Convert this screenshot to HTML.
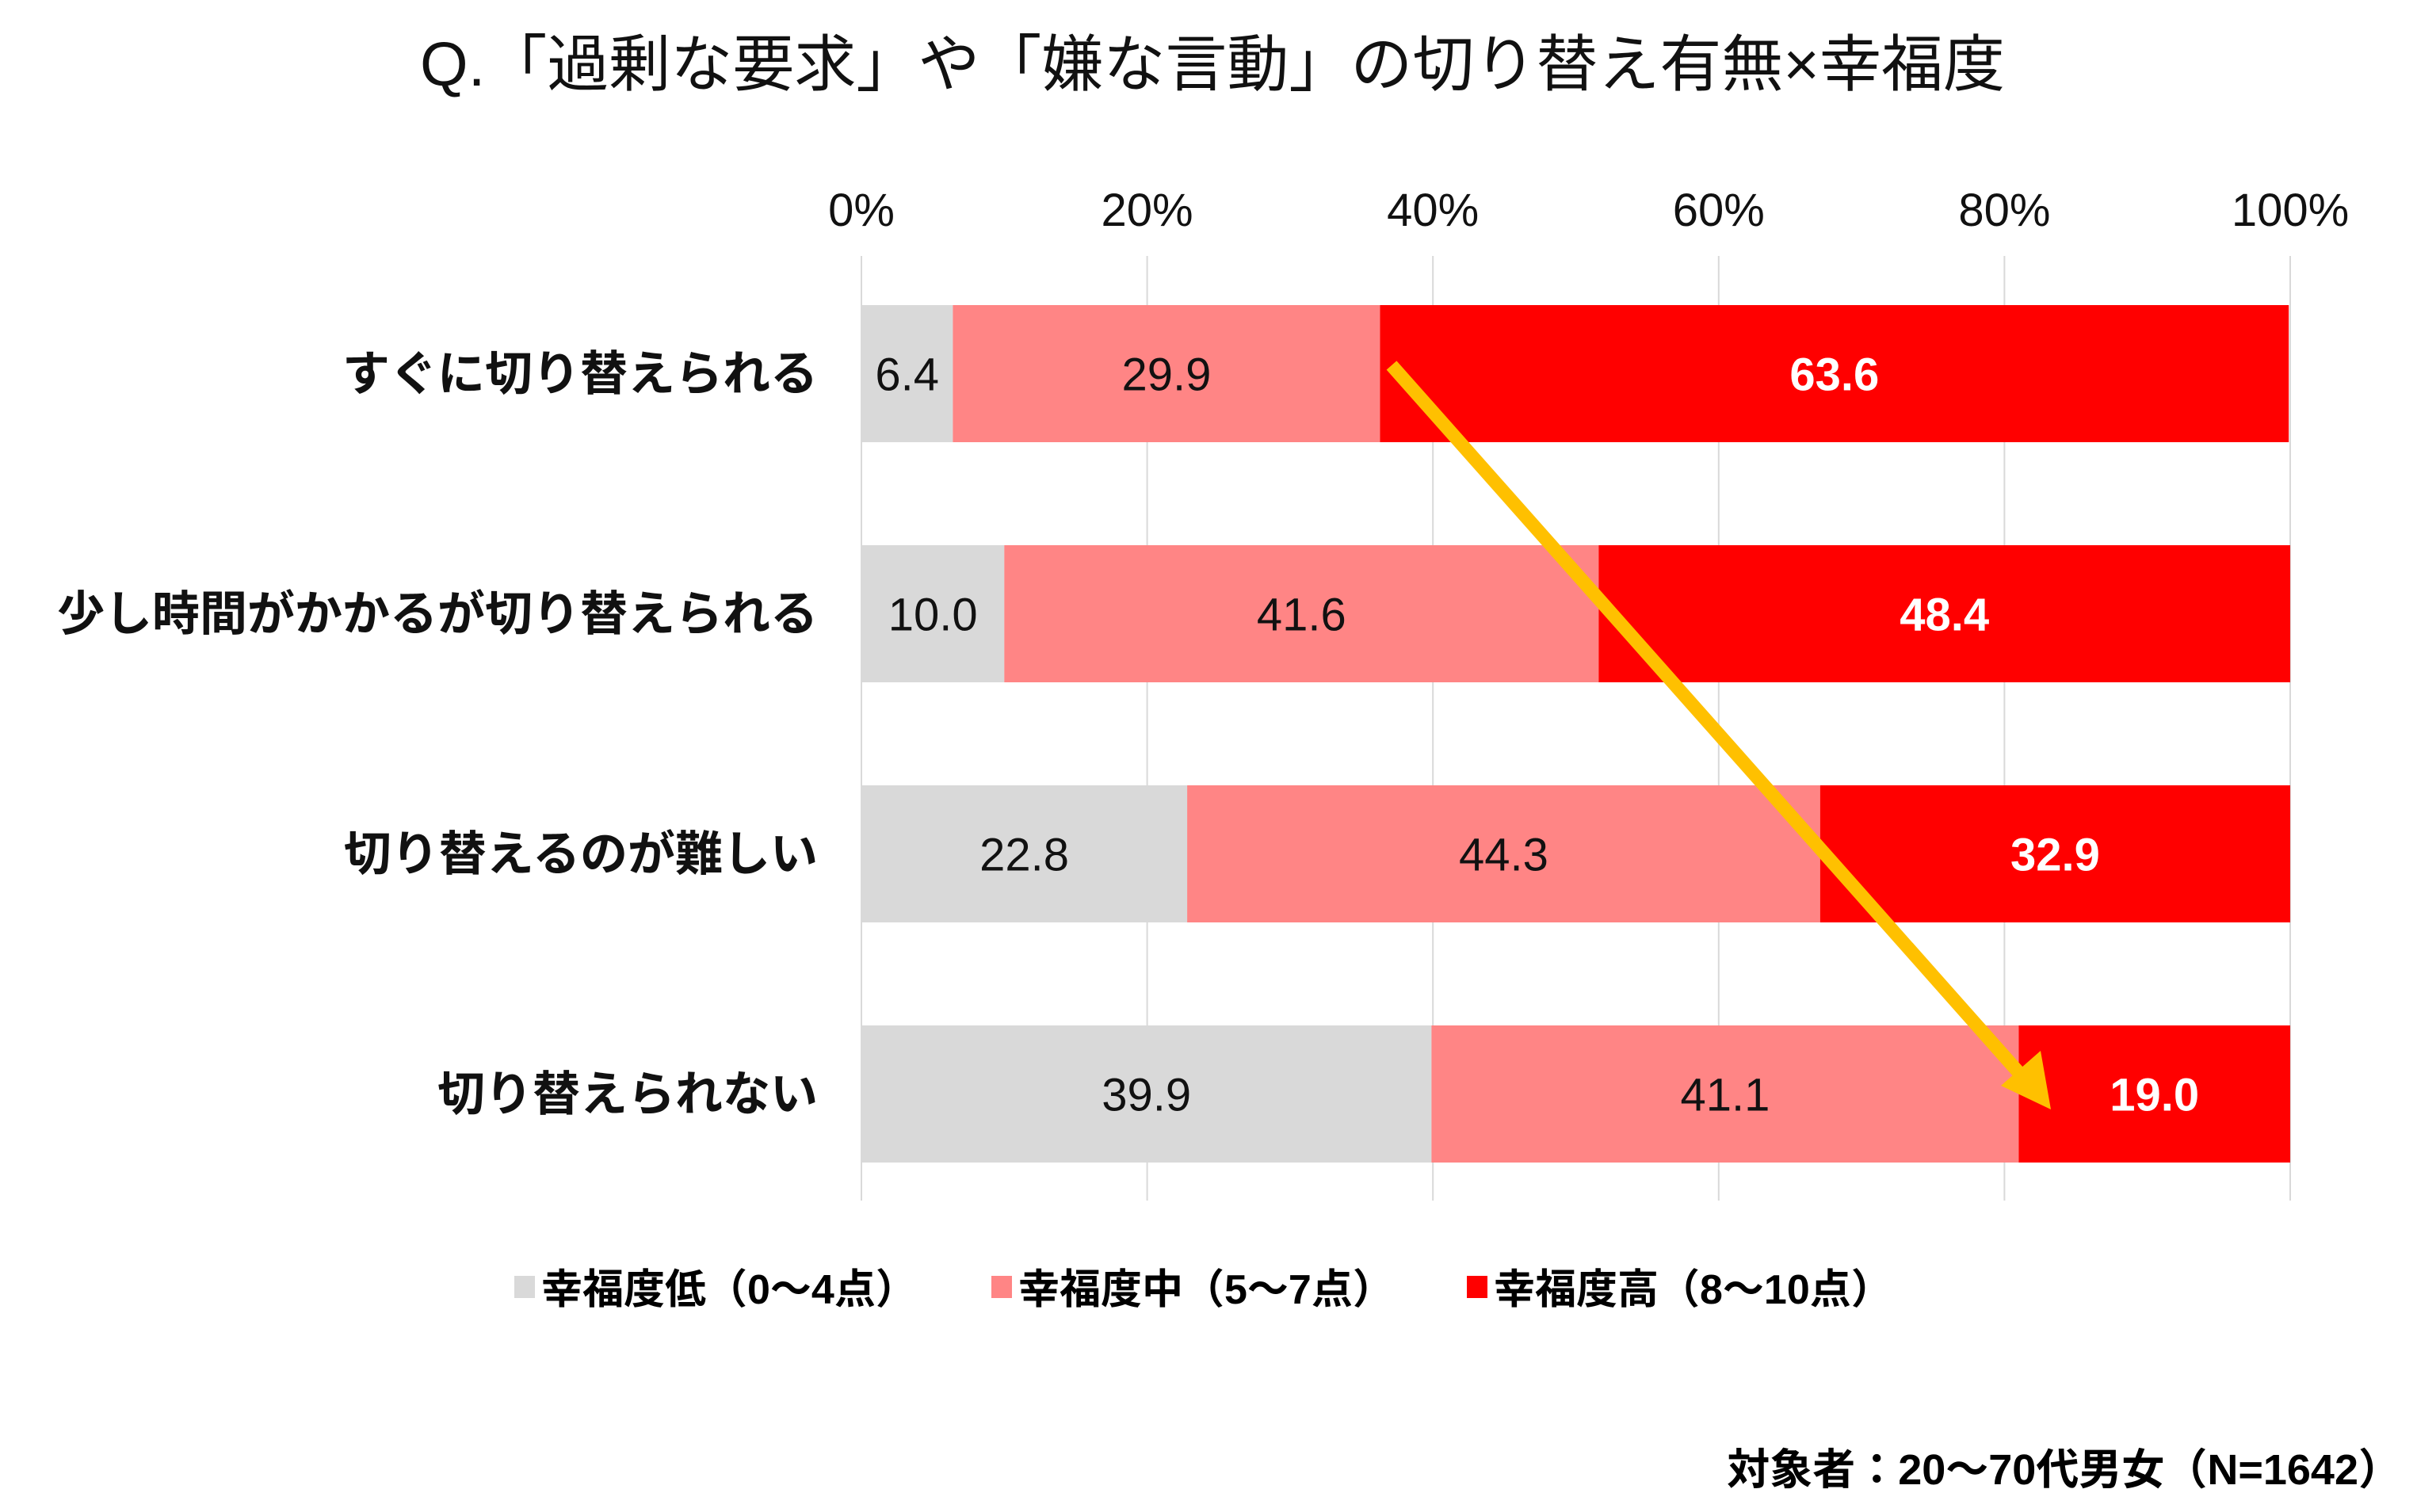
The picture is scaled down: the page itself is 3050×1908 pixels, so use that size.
<!DOCTYPE html>
<html><head><meta charset="utf-8"><style>
body{margin:0;background:#fff;}
svg{display:block;font-family:"Liberation Sans","Noto Sans CJK JP",sans-serif;}
</style></head><body>
<svg id="chart" width="3050" height="1908" viewBox="0 0 3050 1908">
<text x="1530" y="108" font-size="78" text-anchor="middle" fill="#111">Q.「過剰な要求」や「嫌な言動」の切り替え有無×幸福度</text>
<g id="grid"></g>
<g id="bars"></g>
<g id="labels"></g>
<line x1="1756" y1="461" x2="2555" y2="1362" stroke="#FFC000" stroke-width="17"/>
<polygon points="2588,1400 2525,1370 2575,1326" fill="#FFC000"/>
<g>
<rect x="649" y="1610" width="26" height="28" fill="#D9D9D9"/>
<text x="683" y="1645" font-size="52" font-weight="bold">幸福度低（0～4点）</text>
<rect x="1251" y="1610" width="26" height="28" fill="#FF8585"/>
<text x="1285" y="1645" font-size="52" font-weight="bold">幸福度中（5～7点）</text>
<rect x="1851" y="1610" width="26" height="28" fill="#FF0000"/>
<text x="1885" y="1645" font-size="52" font-weight="bold">幸福度高（8～10点）</text>
</g>
<text x="3030" y="1873" font-size="54" font-weight="bold" text-anchor="end">対象者：20～70代男女（N=1642）</text>
</svg>
<script>
const categories=["すぐに切り替えられる","少し時間がかかるが切り替えられる","切り替えるのが難しい","切り替えられない"];
const lowVals=[6.4,10.0,22.8,39.9];
const midVals=[29.9,41.6,44.3,41.1];
const highVals=[63.6,48.4,32.9,19.0];
const tickVals=[0,20,40,60,80,100];
const tickLabels=["0%","20%","40%","60%","80%","100%"];
const NS="http://www.w3.org/2000/svg";
const X0=1087,X1=2890,Y0=385,STEP=303,BH=173;
function xs(v){return X0+(X1-X0)*v/100;}
function yc(i){return Y0+i*STEP;}
function mk(tag,attrs,parent,txt){const e=document.createElementNS(NS,tag);for(const k in attrs)e.setAttribute(k,attrs[k]);if(txt!==undefined)e.textContent=txt;parent.appendChild(e);return e;}
const grid=document.getElementById('grid'),bars=document.getElementById('bars'),labels=document.getElementById('labels');
tickVals.forEach((t,i)=>{
  const l=mk('line',{x1:xs(t),x2:xs(t),y1:323,y2:1515,stroke:'#D9D9D9','stroke-width':2},grid);
  
  
  const tx=mk('text',{x:xs(t),y:285,'font-size':58,'text-anchor':'middle',fill:'#111'},grid,tickLabels[i]);
  
  
});
const series=[[lowVals,'#D9D9D9','#111','low'],[midVals,'#FF8585','#111','mid'],[highVals,'#FF0000','#fff','high']];
categories.forEach((c,i)=>{
  const y=yc(i);
  const lb=mk('text',{x:1032,y:y+BH/2+21,'font-size':60,'font-weight':'bold','text-anchor':'end',fill:'#111'},labels,c);
  
  
  let acc=0;
  series.forEach(s=>{
    const v=s[0][i];
    const r=mk('rect',{x:xs(acc),y:y,width:xs(acc+v)-xs(acc),height:BH,fill:s[1]},bars);
    
    
    const t=mk('text',{x:(xs(acc)+xs(acc+v))/2,y:y+BH/2+21,'font-size':58,'text-anchor':'middle',fill:s[2],'font-weight':s[3]==='high'?'bold':'normal'},bars,v.toFixed(1));
    
    
    acc+=v;
  });
});
</script>
</body></html>
